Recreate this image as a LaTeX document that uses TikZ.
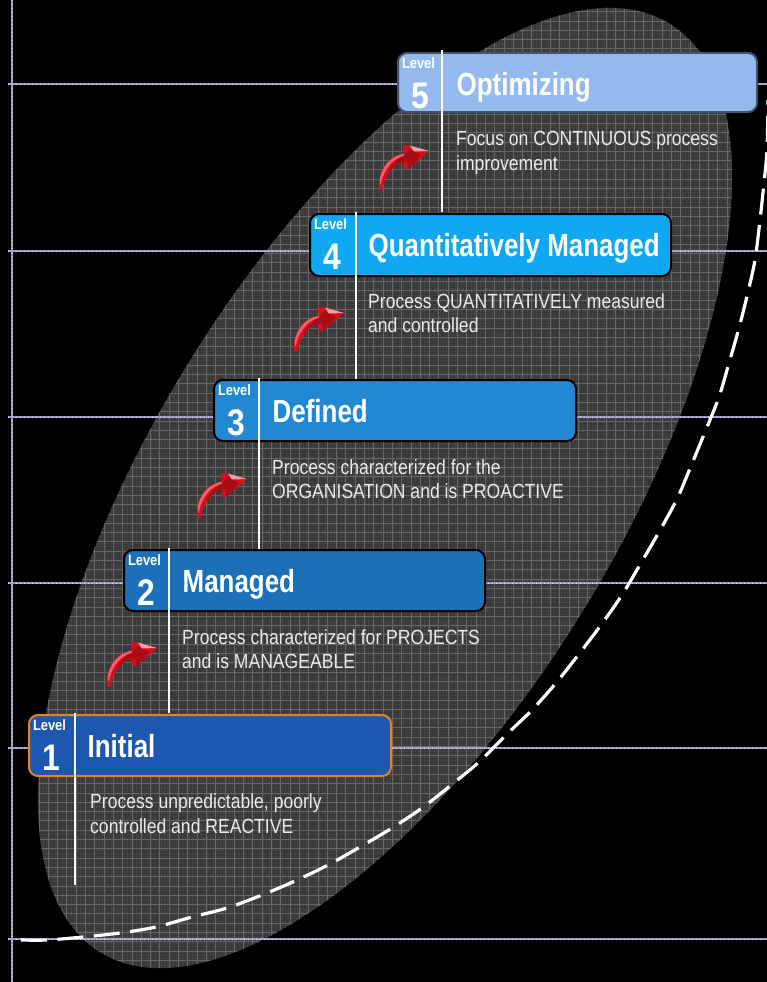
\documentclass[tikz,border=0pt]{standalone}
\usepackage{fontspec}
\setmainfont{Liberation Sans}
\newfontfamily\narrowf[FakeStretch=0.86]{Liberation Sans}
\newfontfamily\titlef[FakeStretch=0.81]{Liberation Sans}
\newfontfamily\bodyf[FakeStretch=0.857]{Liberation Sans}
\usetikzlibrary{calc}
\definecolor{bgdark}{HTML}{3A3A3A}
\definecolor{gridfine}{HTML}{474747}
\definecolor{gridline}{HTML}{666666}
\definecolor{guide}{HTML}{9C9CD0}
\definecolor{lfive}{HTML}{94B9EE}
\definecolor{lfour}{HTML}{10A8F2}
\definecolor{lthree}{HTML}{2288D2}
\definecolor{ltwo}{HTML}{1B70B8}
\definecolor{lone}{HTML}{1C58B0}
\definecolor{orangeb}{HTML}{E8821E}
\definecolor{arrowred}{HTML}{D8101C}
\definecolor{arrowdark}{HTML}{A80C14}
\definecolor{arrowlight}{HTML}{F0606C}
\definecolor{arrowpale}{HTML}{E9A3A8}
\tikzset{
  x=1pt,y=-1pt,
  levelbox/.style={rounded corners=9pt,line width=2pt,anchor=north west,inner sep=0pt,outer sep=0pt,minimum height=#1},
  leveltag/.style={text=white,font=\narrowf\bfseries\fontsize{15}{15}\selectfont,anchor=base,inner sep=0pt},
  levelnum/.style={text=white,font=\narrowf\bfseries\fontsize{37}{37}\selectfont,anchor=base,inner sep=0pt},
  leveltitle/.style={text=white,font=\titlef\bfseries\fontsize{32}{32}\selectfont,anchor=base west,inner sep=0pt},
  bodytext/.style={text=white!92!black,font=\bodyf\fontsize{20.5}{25.5}\selectfont,anchor=base west,inner sep=0pt},
  stem/.style={white,line width=2.8pt},
  guideline/.style={guide,line width=1.8pt},
  guidedots/.style={white!70!guide,line width=0.8pt,dash pattern=on 1pt off 3pt},
  curvedash/.style={white,line width=3.2pt,dash pattern=on 26pt off 10.5pt},
}
% box: name, x, y, w, h, fill, border, number, title
\newcommand{\lvlbox}[9]{%
  \node[levelbox=#5 pt,minimum width=#4 pt,fill=#6,draw=#7] (box#1) at (#2,#3) {};
  \node[leveltag] (tag#1) at ($(box#1.north west)+(20.5,15)$) {Level};
  \node[levelnum] (num#1) at ($(box#1.north west)+(22.5,55)$) {#8};
  \node[leveltitle] (title#1) at ($(box#1.north west)+(58.5,42)$) {#9};
}
\newcommand{\redarrow}[3]{%
  \begin{scope}[shift={(#2,#3)}]
    \coordinate (arrow#1) at (0,0);
    \fill[arrowred]
      (-50,38.7) .. controls (-51.5,25) and (-44,5) .. (-25.3,2.7)
      -- (-26.3,-5.7) -- (-20.7,-5.7) -- (0,0) -- (-12.3,11) -- (-20.7,17.7) -- (-25.7,17.7) -- (-25,11)
      .. controls (-34,12) and (-44,24) .. (-46.7,38.7) -- cycle;
    \fill[arrowlight] (-49.5,30) .. controls (-48,16) and (-38,5) .. (-25.3,2.7)
      -- (-25.2,4.8) .. controls (-37,8) and (-45,18) .. (-48.5,34) -- cycle;
    \fill[arrowdark] (-25.2,4.8) -- (-20,-2) -- (-8,4) -- (-15,13) -- (-20.7,17.7) -- (-22,10)-- (-25,11)
      .. controls (-31,11.5) and (-37,16) .. (-41,22) .. controls (-37,13) and (-31,7) .. (-25.2,4.8) -- cycle;
    \fill[arrowpale] (0,0) -- (-19,-5.4) -- (-15,0.5) -- cycle;
  \end{scope}
}
\begin{document}
\begin{tikzpicture}
\useasboundingbox (0,0) rectangle (767,982);
\fill[black] (0,0) rectangle (767,982);
% shaded ellipse
\begin{scope}
  \path[clip] (385,488) ellipse [x radius=544.6, y radius=233, rotate=58.5];
  \fill[bgdark] (0,0) rectangle (767,982);
  \foreach \i in {0,...,255} {
    \draw[gridfine,line width=1pt,dash pattern=on 1.5pt off 1.6pt] (3.1*\i,0) -- (3.1*\i,982);
  }
  \foreach \i in {0,...,83} {
    \draw[gridline,line width=1pt] (1.8+9.3*\i,0) -- (1.8+9.3*\i,982);
  }
  \foreach \i in {0,...,106} {
    \draw[gridline,line width=1pt] (0,2.5+9.3*\i) -- (767,2.5+9.3*\i);
  }
\end{scope}
% guide lines
\foreach \yy in {84,251,417,583,748,939} {
  \draw[guideline] (8,\yy) -- (767,\yy);
  \draw[guidedots] (8,\yy) -- (767,\yy);
}
\draw[guideline] (12,0) -- (12,982);
\draw[guidedots] (12,0) -- (12,982);
% dashed curve
\draw[curvedash] plot[smooth,tension=0.5] coordinates {(21,940) (47,940) (83,937) (120,933) (156,927) (192,917) (227,908) (262,895) (295,881) (328,865) (360,847) (392,828) (422,808) (450,786) (479,762) (506,735) (532,710) (556,683) (579,654) (601,625) (622,595) (641,563) (659,532) (677,499) (691,466) (705,432) (719,397) (729,363) (739,328) (748,292) (755,260) (760,220) (764,183) (767,150) (768,100)};
% stems coordinates
\coordinate (s5a) at (442,50); \coordinate (s5b) at (442,212);
\coordinate (s4a) at (356,212); \coordinate (s4b) at (356,379);
\coordinate (s3a) at (259,378); \coordinate (s3b) at (259,549);
\coordinate (s2a) at (169,548); \coordinate (s2b) at (169,713);
\coordinate (s1a) at (75,713); \coordinate (s1b) at (75,885);
% boxes
\lvlbox{5}{398}{53}{359}{59}{lfive}{lfive!45!black}{5}{Optimizing}
\lvlbox{4}{310}{214}{361}{62}{lfour}{black}{4}{Quantitatively Managed}
\lvlbox{3}{214}{380}{362}{61}{lthree}{black}{3}{Defined}
\lvlbox{2}{124}{550}{361}{61}{ltwo}{black}{2}{Managed}
\lvlbox{1}{29}{715}{362}{61}{lone}{orangeb}{1}{Initial}
\foreach \n in {1,...,5} { \draw[stem] (s\n a) -- (s\n b); }
% body text
\node[bodytext] (body5a) at (456,145) {Focus on CONTINUOUS process};
\node[bodytext] (body5b) at (456,170) {improvement};
\node[bodytext] (body4a) at (368,308) {Process QUANTITATIVELY measured};
\node[bodytext] (body4b) at (368,332) {and controlled};
\node[bodytext] (body3a) at (272,474) {Process characterized for the};
\node[bodytext] (body3b) at (272,498) {ORGANISATION and is PROACTIVE};
\node[bodytext] (body2a) at (182,644) {Process characterized for PROJECTS};
\node[bodytext] (body2b) at (182,668) {and is MANAGEABLE};
\node[bodytext] (body1a) at (90,808) {Process unpredictable, poorly};
\node[bodytext] (body1b) at (90,833) {controlled and REACTIVE};
% arrows
\redarrow{5}{429}{151}
\redarrow{4}{344}{313}
\redarrow{3}{247}{479}
\redarrow{2}{157}{648}
\end{tikzpicture}
\end{document}
